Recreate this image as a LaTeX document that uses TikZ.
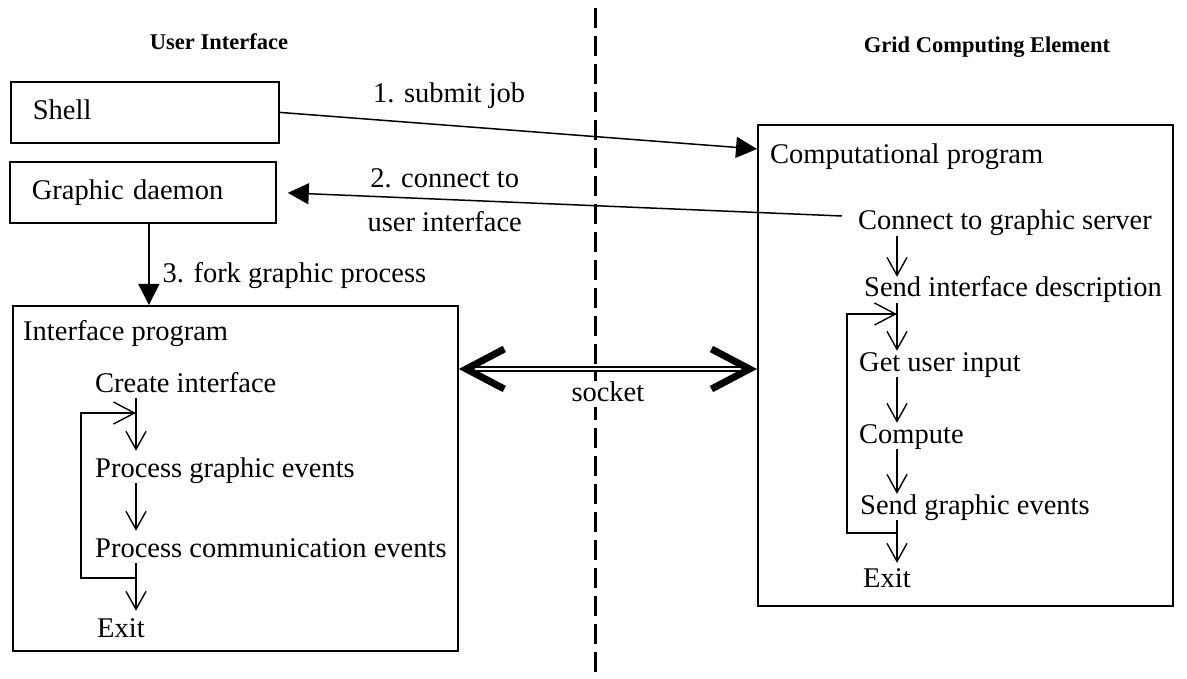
\documentclass[tikz,border=0pt]{standalone}
\usepackage{fontspec}
\setmainfont{Liberation Serif}
\usetikzlibrary{arrows.meta,positioning,calc}
\newcommand\bodysize{\fontsize{28.5}{32}\selectfont}
\newcommand\headsize{\fontsize{22.5}{25}\selectfont}
\tikzset{
  procbox/.style  = {draw, line width=1.8pt, align=left, inner ysep=0pt, inner xsep=22pt,
                     font=\bodysize, text height=20pt, text depth=6pt, anchor=north west},
  frame/.style    = {draw, line width=1.8pt, inner sep=0pt, anchor=north west},
  steptext/.style = {inner sep=0pt, anchor=west, font=\bodysize, text height=20pt, text depth=6pt},
  lbl/.style      = {inner sep=0pt, font=\bodysize, text height=20pt, text depth=6pt},
  heading/.style  = {inner sep=0pt, font=\headsize\bfseries},
  flow/.style     = {-{Triangle[length=21pt,width=21pt]}, line width=1.5pt},
  stepflow/.style = {-{Straight Barb[length=18pt,width=20pt]}, line width=1.4pt},
  loopflow/.style = {-{Straight Barb[length=21pt,width=22pt]}, line width=1.4pt},
  sockflow/.style = {{Straight Barb[length=38pt,width=40pt,line width=7pt]}-{Straight Barb[length=38pt,width=40pt,line width=7pt]},
                     double, double distance=2.5pt, line width=2pt},
  divider/.style  = {line width=3pt, dash pattern=on 20pt off 8pt, dash phase=20pt},
}
\begin{document}
\begin{tikzpicture}[x=1pt, y=-1pt]
  \useasboundingbox (0,0) rectangle (1187,679);
  % divider between the two sides
  \coordinate (divtop) at (595,0);
  \coordinate (divbot) at (595,679);
  \draw[divider] (divtop) -- (divbot);

  % headings
  \node[heading] (uihead) at (219,42) {User Interface};
  \node[heading] (gridhead) at (987,47) {Grid Computing Element};

  % user interface side
  \node[procbox, text width=224pt, minimum height=61pt] (shell) at (10,81) {Shell};
  \node[procbox, text width=222pt, minimum height=61pt] (daemon) at (9,161) {Graphic daemon};
  \node[frame, minimum width=445pt, minimum height=345pt] (ipbox) at (12,305) {};
  \node[steptext] (iptitle) at (23,334) {Interface program};
  \node[steptext] (create) at (95,385) {Create interface};
  \node[steptext] (pge) at (95,470) {Process graphic events};
  \node[steptext] (pce) at (95,550) {Process communication events};
  \node[steptext] (lexit) at (97,630) {Exit};

  % grid computing element side
  \node[frame, minimum width=415pt, minimum height=481pt] (cpbox) at (757,124) {};
  \node[steptext] (cptitle) at (770,157) {Computational program};
  \node[steptext] (connect) at (858,223) {Connect to graphic server};
  \node[steptext] (sendif) at (864,290) {Send interface description};
  \node[steptext] (getin) at (859,364) {Get user input};
  \node[steptext] (compute) at (859,436) {Compute};
  \node[steptext] (sendge) at (860,507) {Send graphic events};
  \node[steptext] (rexit) at (863,580) {Exit};

  % step arrows
  \coordinate (lx) at (136,0);
  \coordinate (rx) at (897,0);
  \draw[stepflow, shorten >=6pt] (create.south -| lx) -- (pge.north -| lx);
  \draw[stepflow, shorten >=6pt] (pge.south -| lx) -- (pce.north -| lx);
  \draw[stepflow, shorten >=6pt] (pce.south -| lx) -- (lexit.north -| lx);
  \draw[stepflow] (connect.south -| rx) -- (sendif.north -| rx);
  \draw[stepflow] (sendif.south -| rx) -- (getin.north -| rx);
  \draw[stepflow] (getin.south -| rx) -- (compute.north -| rx);
  \draw[stepflow] (compute.south -| rx) -- (sendge.north -| rx);
  \draw[stepflow, shorten >=4pt] (sendge.south -| rx) -- (rexit.north -| rx);

  % loops
  \coordinate (ltop) at (136,413);
  \coordinate (lbot) at (136,578);
  \draw[loopflow] (lbot) -- ++(-55,0) |- (ltop);
  \coordinate (rtop) at (897,314);
  \coordinate (rbot) at (897,533);
  \draw[loopflow] (rbot) -- ++(-50,0) |- (rtop);

  % messages
  \draw[flow] (shell.east) -- ([yshift=-25pt]cpbox.north west)
    node[lbl, pos=.355, above=16pt] {1. submit job};
  \draw[flow, shorten >=11pt] ([xshift=-16pt,yshift=7pt]connect.west) -- (daemon.east)
    node[lbl, pos=.703, above=5pt] {2. connect to}
    node[lbl, pos=.703, below=11pt] {user interface};
  \draw[flow] ([xshift=6pt]daemon.south) -- ([xshift=6pt]daemon.south |- ipbox.north)
    node[lbl, pos=.64, right=13pt] {3. fork graphic process};
  \coordinate (socky) at (0,369);
  \draw[sockflow] (ipbox.east |- socky) -- (cpbox.west |- socky)
    node[lbl, midway, below=11pt, fill=white] {socket};
\end{tikzpicture}
\end{document}
